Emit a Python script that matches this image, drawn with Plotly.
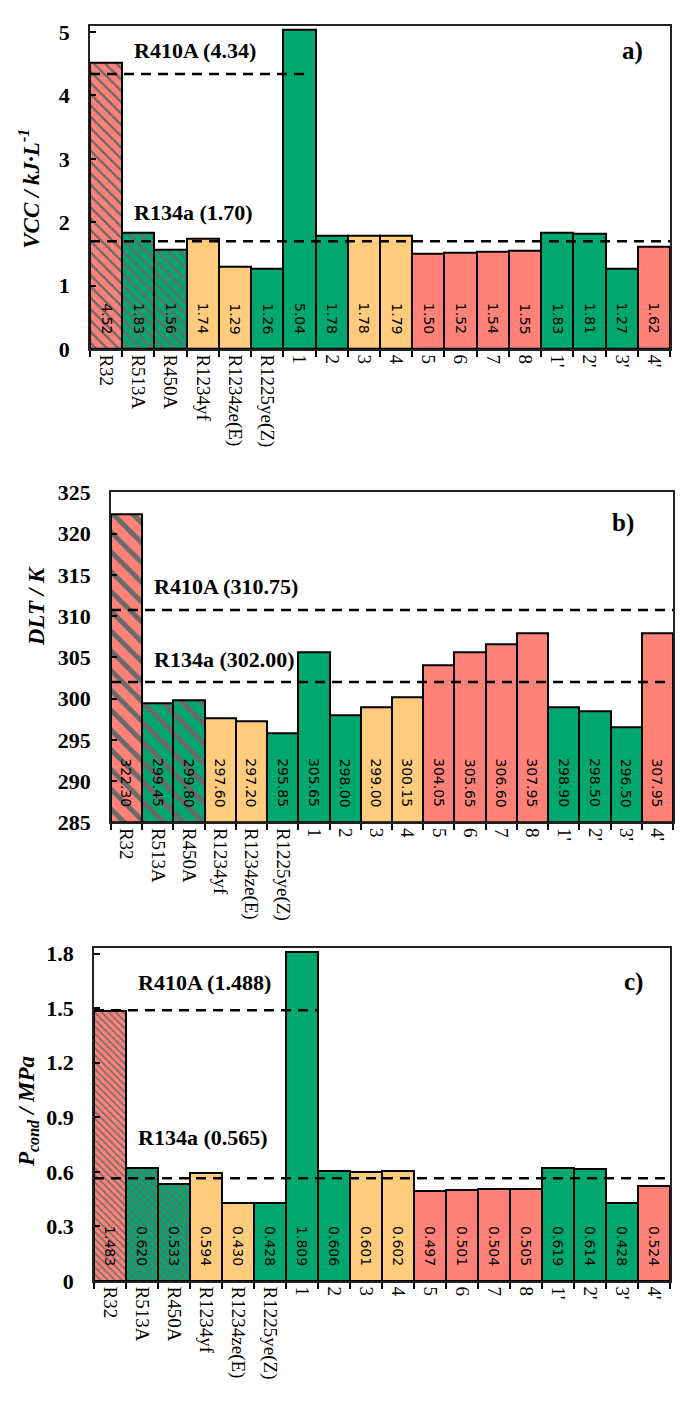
import plotly.graph_objects as go

categories = ["R32", "R513A", "R450A", "R1234yf", "R1234ze(E)", "R1225ye(Z)",
              "1", "2", "3", "4", "5", "6", "7", "8", "1'", "2'", "3'", "4'"]
groups = ["pink", "green", "green", "orange", "orange", "green",
          "green", "green", "orange", "orange", "pink", "pink", "pink", "pink",
          "green", "green", "green", "pink"]
hatched = [True, True, True] + [False] * 15

vcc = [4.52, 1.83, 1.56, 1.74, 1.29, 1.26, 5.04, 1.78, 1.78, 1.79,
       1.50, 1.52, 1.54, 1.55, 1.83, 1.81, 1.27, 1.62]
dlt = [322.30, 299.45, 299.80, 297.60, 297.20, 295.85, 305.65, 298.00, 299.00, 300.15,
       304.05, 305.65, 306.60, 307.95, 298.90, 298.50, 296.50, 307.95]
pcond = [1.483, 0.620, 0.533, 0.594, 0.430, 0.428, 1.809, 0.606, 0.601, 0.602,
         0.497, 0.501, 0.504, 0.505, 0.619, 0.614, 0.428, 0.524]

vcc_r410a, vcc_r134a = 4.34, 1.70
dlt_r410a, dlt_r134a = 310.75, 302.00
pcond_r410a, pcond_r134a = 1.488, 0.565

palette = {"pink": "#FF8279", "green": "#00A86F", "orange": "#FFCC7E"}
hatch_color = "#6A6A6A"

W, H = 680, 1408
SERIF = "Liberation Serif"
SANS = "DejaVu Sans"

def px_x(p):
    return p / W

def px_y(p):
    return 1 - p / H

panels = [
    dict(vals=vcc, fmt="{:.2f}", base=0, rng=[0, 5.1], dtick=1, hs=8, sol=0.3,
         dom_x=[90, 670], dom_y=[14, 343],
         r410=vcc_r410a, r134=vcc_r134a, r410_end=6.2,
         r410_lbl="R410A (4.34)", r134_lbl="R134a (1.70)", sh410=9, sh134=14,
         title="<b><i>VCC / kJ·L<sup>-1</sup></i></b>", tpos=(30, 180),
         letter="<b>a)</b>", lpos=(632, 40)),
    dict(vals=dlt, fmt="{:.2f}", base=285, rng=[285, 325], dtick=5, hs=14, sol=0.35,
         dom_x=[111, 673], dom_y=[489, 825],
         r410=dlt_r410a, r134=dlt_r134a, r410_end=17.5,
         r410_lbl="R410A (310.75)", r134_lbl="R134a (302.00)", sh410=9, sh134=8,
         title="<b><i>DLT / K</i></b>", tpos=(36, 605),
         letter="<b>b)</b>", lpos=(623, 520)),
    dict(vals=pcond, fmt="{:.3f}", base=0, rng=[0, 1.83], dtick=0.3, hs=5, sol=0.3,
         dom_x=[94, 670], dom_y=[953, 1292],
         r410=pcond_r410a, r134=pcond_r134a, r410_end=6.5,
         r410_lbl="R410A (1.488)", r134_lbl="R134a (0.565)", sh410=13, sh134=26,
         title="<b><i>P<sub>cond</sub> / MPa</i></b>", tpos=(28, 1120),
         letter="<b>c)</b>", lpos=(633, 988)),
]

fig = go.Figure()
shapes = []
annotations = []

for i, p in enumerate(panels, start=1):
    xa = "x" if i == 1 else f"x{i}"
    ya = "y" if i == 1 else f"y{i}"
    base = p["base"]
    for cat, v, g, h in zip(categories, p["vals"], groups, hatched):
        pattern = dict(shape="\\", fillmode="overlay", fgcolor=hatch_color,
                       fgopacity=1, size=p["hs"], solidity=p["sol"]) if h else dict(shape="")
        fig.add_trace(go.Bar(
            x=[cat], y=[v - base], base=base,
            xaxis=xa, yaxis=ya,
            marker=dict(color=palette[g], line=dict(color="black", width=2),
                        pattern=pattern),
            showlegend=False, hoverinfo="skip",
        ))
    # value labels (positioned by category index)
    for idx, v in enumerate(p["vals"]):
        annotations.append(dict(
            x=idx, y=base, xref=xa, yref=ya, text=p["fmt"].format(v),
            textangle=90, showarrow=False, xanchor="center", yanchor="bottom",
            yshift=13, font=dict(family=SANS, size=14, color="black"),
        ))
    # reference lines
    shapes.append(dict(type="line", xref=xa, yref=ya, x0=-0.5, x1=p["r410_end"],
                       y0=p["r410"], y1=p["r410"],
                       line=dict(color="black", width=2.5, dash="10px,7px")))
    shapes.append(dict(type="line", xref=xa, yref=ya, x0=-0.5, x1=17.5,
                       y0=p["r134"], y1=p["r134"],
                       line=dict(color="black", width=2.5, dash="10px,7px")))
    for lbl, yv, sh in [(p["r410_lbl"], p["r410"], p["sh410"]),
                        (p["r134_lbl"], p["r134"], p["sh134"])]:
        annotations.append(dict(
            x=0.8, y=yv, xref=xa, yref=ya, text=f"<b>{lbl}</b>",
            showarrow=False, xanchor="left", yanchor="bottom", yshift=sh,
            font=dict(family=SERIF, size=22, color="black"),
        ))
    # axis title
    annotations.append(dict(
        x=px_x(p["tpos"][0]), y=px_y(p["tpos"][1]), xref="paper", yref="paper",
        text=p["title"], textangle=-90, showarrow=False,
        xanchor="center", yanchor="middle",
        font=dict(family=SERIF, size=23, color="black"),
    ))
    annotations.append(dict(
        x=px_x(p["lpos"][0]), y=px_y(p["lpos"][1]), xref="paper", yref="paper",
        text=p["letter"], showarrow=False, xanchor="center", yanchor="middle",
        font=dict(family=SERIF, size=25, color="black"),
    ))

    xkey = "xaxis" if i == 1 else f"xaxis{i}"
    ykey = "yaxis" if i == 1 else f"yaxis{i}"
    fig.update_layout(**{
        xkey: dict(
            domain=[px_x(p["dom_x"][0]), px_x(p["dom_x"][1])],
            anchor=ya, type="category", range=[-0.5, 17.5],
            categoryorder="array", categoryarray=categories,
            tickangle=90, ticks="outside", tickson="boundaries", ticklen=6,
            tickcolor="black", tickwidth=1.5,
            showline=True, mirror=True, linecolor="#222", linewidth=1.5,
            showgrid=False, tickfont=dict(family=SERIF, size=19, color="black"),
            fixedrange=True,
        ),
        ykey: dict(
            domain=[px_y(p["dom_y"][1]), px_y(p["dom_y"][0])],
            anchor=xa, range=p["rng"], dtick=p["dtick"], tick0=p["base"],
            ticks="inside", ticklen=6, tickcolor="black", tickwidth=1.5,
            showline=True, mirror=True, linecolor="#222", linewidth=1.5,
            showgrid=False, zeroline=False, ticklabelstandoff=14,
            tickfont=dict(family=SERIF, size=22, color="black", weight="bold"),
            fixedrange=True,
        ),
    })

fig.update_layout(
    width=W, height=H,
    margin=dict(l=0, r=0, t=0, b=0),
    paper_bgcolor="white", plot_bgcolor="white",
    barmode="overlay",
    bargap=0,
    shapes=shapes,
    annotations=annotations,
)

fig.write_html("out.html")
